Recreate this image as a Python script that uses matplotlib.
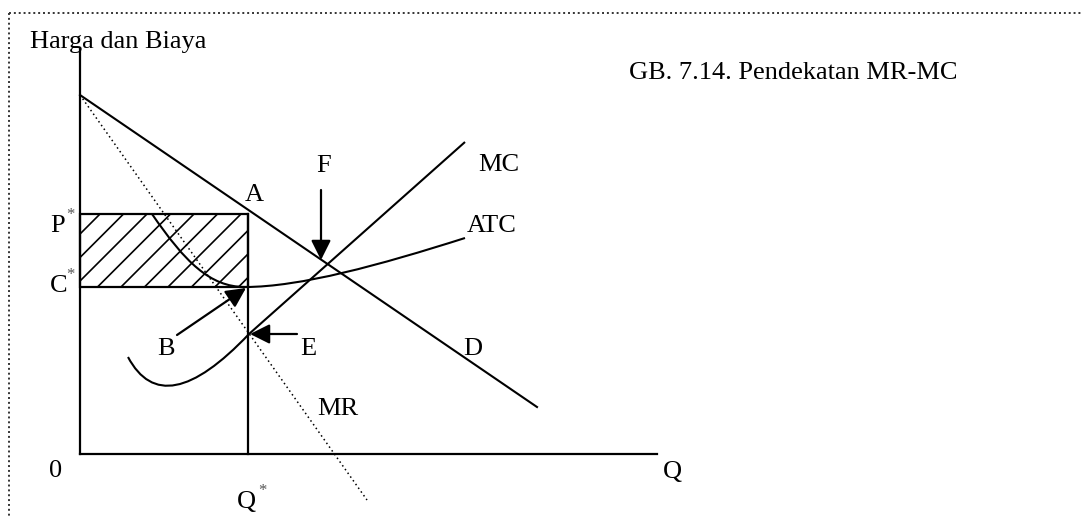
import numpy as np
import matplotlib.pyplot as plt
from matplotlib.path import Path
from matplotlib.patches import PathPatch, Rectangle

plt.rcParams['font.family'] = ['Liberation Serif', 'DejaVu Serif']

# schematic values (Q along x, price/cost along y, origin at the axis corner)
q_max, p_max = 577, 406
d_q, d_p = [0, 457], [359, 47]            # demand D
mr_q, mr_p = [0, 287], [359, -46]         # marginal revenue MR (dotted)
q_star, p_star, c_star = 168, 240, 167
# MC: bezier part then straight part
mc_q = [48, 72, 112, 169, 385]
mc_p = [97, 52, 60, 120, 312]
# ATC: two bezier segments
atc_q = [72, 105, 130, 165, 220, 300, 385]
atc_p = [240, 192, 167, 167, 167, 189, 216]

fig = plt.figure(figsize=(10.83, 5.17), dpi=100)
ax = fig.add_axes([0, 0, 1, 1])
ax.set_xlim(-80, 1003)
ax.set_ylim(-63, 454)
ax.axis('off')

# dotted frame
ax.plot([-71, 1003], [441, 441], ls=(0, (1, 1.5)), color='#333', lw=1.4)
ax.plot([-71, -71], [441, -63], ls=(0, (1, 1.5)), color='#333', lw=1.4)

# axes
ax.plot([0, 0], [0, p_max], color='k', lw=1.6)
ax.plot([0, q_max], [0, 0], color='k', lw=1.6)

# profit rectangle with hatch
rect = Rectangle((0, c_star), q_star, p_star - c_star, fill=False, ec='k', lw=1.6)
ax.add_patch(rect)
for c in np.arange(-c_star - q_star, q_star, 23.5):
    ln, = ax.plot([c, c + 400], [c_star, c_star + 400], color='k', lw=1.2)
    ln.set_clip_path(rect)
ax.plot([q_star, q_star], [0, p_star], color='k', lw=1.6)

ax.plot(d_q, d_p, color='k', lw=1.5)
ax.plot(mr_q, mr_p, color='k', lw=1.1, ls=(0, (1, 2)))

mc_path = Path(list(zip(mc_q, mc_p)),
               [Path.MOVETO, Path.CURVE4, Path.CURVE4, Path.CURVE4, Path.LINETO])
ax.add_patch(PathPatch(mc_path, fill=False, ec='k', lw=1.5))
atc_path = Path(list(zip(atc_q, atc_p)),
                [Path.MOVETO] + [Path.CURVE4] * 6)
ax.add_patch(PathPatch(atc_path, fill=False, ec='k', lw=1.5))

arrow = dict(arrowstyle='-|>', mutation_scale=30, lw=1.6, color='k', shrinkA=0, shrinkB=0)
ax.annotate('', xy=(241, 194), xytext=(241, 264), arrowprops=arrow)
ax.annotate('', xy=(166, 166), xytext=(97, 119), arrowprops=arrow)
ax.annotate('', xy=(170, 120), xytext=(217, 120), arrowprops=arrow)

fs = 19
def label(x, y, s, star=None):
    ax.text(x, y, s, fontsize=fs, ha='left', va='baseline')
    if star:
        ax.text(star[0], star[1], '*', fontsize=12, color='#555', ha='left', va='top')

label(-50, 406, 'Harga dan Biaya')
label(549, 375, 'GB. 7.14. Pendekatan MR-MC')
label(165, 253, 'A')
label(-30, 222, 'P', star=(-14, 247))
label(-30, 162, 'C', star=(-14, 187))
label(77, 99, 'B')
label(220, 99, 'E')
label(237, 39, 'MR')
label(383, 99, 'D')
label(583, -24, 'Q')
label(-31, -23, '0')
label(157, -54, 'Q', star=(178, -29))
label(236, 282, 'F')
label(398, 283, 'MC')
label(387, 222, 'ATC')

fig.savefig('out.png', dpi=100)
